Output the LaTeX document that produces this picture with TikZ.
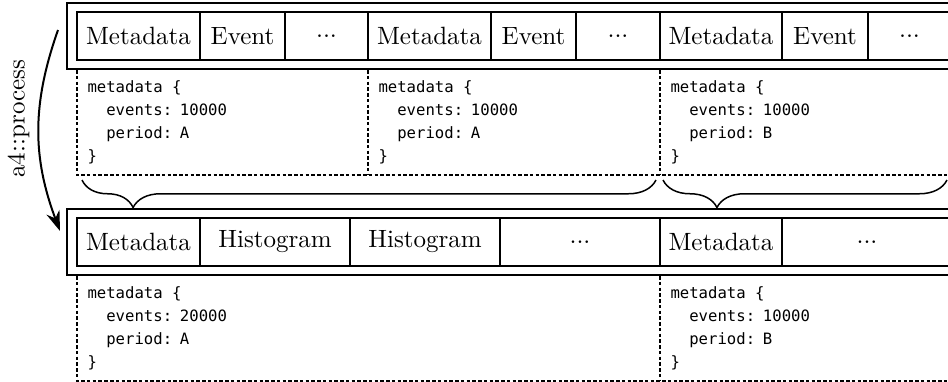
\documentclass[tikz,border=0pt]{standalone}
\usepackage{fontspec}
\setmonofont{DejaVu Sans Mono}
\usepackage{tikz}
\usetikzlibrary{arrows.meta,positioning,calc,fit,decorations.pathreplacing}
\newcommand{\mdind}{\phantom{xx}}
\newcommand{\mdsp}{\phantom{x}}
\newcommand{\mddots}{...}
\tikzset{
  cell/.style={draw, thick, minimum height=19.2pt, inner sep=2pt, outer sep=0pt},
  frame/.style={draw, thick, inner xsep=4pt, inner ysep=3.6pt},
  metabox/.style={anchor=north west, align=left, inner xsep=4pt, inner ysep=0pt, minimum height=41.6pt, font=\fontsize{6.25}{9.2}\selectfont\ttfamily},
  dashline/.style={semithick, dash pattern=on 1.4pt off 0.9pt},
  bracedown/.style={decorate, decoration={brace, mirror, amplitude=11pt, aspect=#1}, semithick},
  procarr/.style={-{Stealth[length=8pt,width=5.5pt]}, thick}
}

\begin{document}
\begin{tikzpicture}[x=0.4pt,y=-0.4pt]
  \useasboundingbox (0,0) rectangle (948,381);
  % input file: three blocks of records
  \foreach \n/\xa/\xb/\txt in {tma/77/200/Metadata, tea/200/285/Event, tda/285/368/\mddots,
      tmb/368/491/Metadata, teb/491/576/Event, tdb/576/660/\mddots,
      tmc/660/782/Metadata, tec/782/868/Event, tdc/868/951/\mddots}
    {\node[cell, minimum width={(\xb-\xa)*0.4pt}] (\n) at ({(\xa+\xb)/2},36) {\txt};}
  \node[frame, fit=(tma)(tdc)] (topframe) {};
  \node[metabox, text width=108.4pt] (dta) at (tma.west |- topframe.south) {metadata\mdsp\{\\\mdind events: 10000\\\mdind period: A\\\}};
  \node[metabox, text width=108.8pt] (dtb) at (tmb.west |- topframe.south) {metadata\mdsp\{\\\mdind events: 10000\\\mdind period: A\\\}};
  \node[metabox, text width=108.4pt] (dtc) at (tmc.west |- topframe.south) {metadata\mdsp\{\\\mdind events: 10000\\\mdind period: B\\\}};
  \draw[dashline] (dta.north west) -- (dta.south west) -- (dtc.south east) -- (dtc.north east);
  \foreach \n in {dtb,dtc}{\draw[dashline] (\n.north west) -- (\n.south west);}
  % output file: merged blocks
  \foreach \n/\xa/\xb/\txt in {bma/77/200/Metadata, bha/200/350/Histogram, bhb/350/500/Histogram,
      bda/500/660/\mddots, bmb/660/782/Metadata, bdb/782/952/\mddots}
    {\node[cell, minimum width={(\xb-\xa)*0.4pt}] (\n) at ({(\xa+\xb)/2},242) {\txt};}
  \node[frame, fit=(bma)(bdb)] (botframe) {};
  \node[metabox, text width=225.2pt] (dba) at (bma.west |- botframe.south) {metadata\mdsp\{\\\mdind events: 20000\\\mdind period: A\\\}};
  \node[metabox, text width=108.8pt] (dbb) at (bmb.west |- botframe.south) {metadata\mdsp\{\\\mdind events: 10000\\\mdind period: B\\\}};
  \draw[dashline] (dba.north west) -- (dba.south west) -- (dbb.south east) -- (dbb.north east);
  \draw[dashline] (dbb.north west) -- (dbb.south west);
  % braces grouping the blocks
  \draw[bracedown=0.089] ([xshift=2pt,yshift=-2pt]dta.south west) -- ([xshift=-2pt,yshift=-2pt]dtb.south east);
  \draw[bracedown=0.19] ([xshift=1.2pt,yshift=-2pt]dtc.south west) -- ([xshift=-2pt,yshift=-2pt]dtc.south east);
  % processing step
  \coordinate (procS) at (58,30);
  \coordinate (procE) at (60,231);
  \draw[procarr] (procS) to[bend right=20] node[pos=0.45, rotate=90, above=1pt] (proclbl) {a4::process} (procE);
\end{tikzpicture}
\end{document}
